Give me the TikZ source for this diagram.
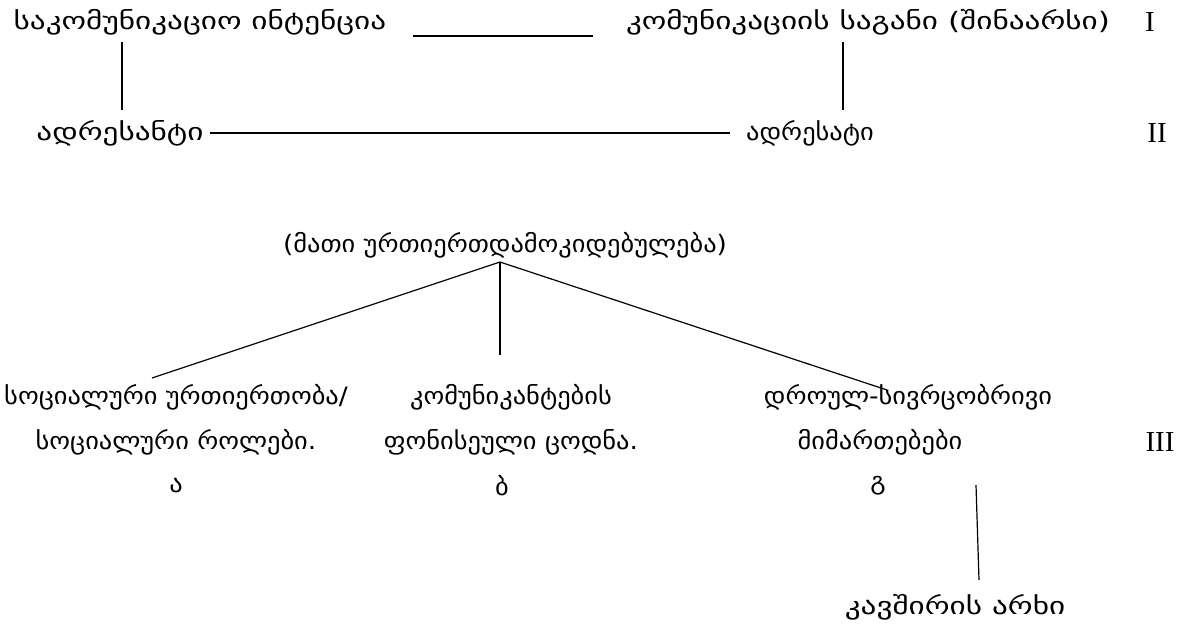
\documentclass[tikz,border=0pt]{standalone}
\usepackage{fontspec}
\setmainfont{Liberation Serif}
\newfontfamily\geo[FakeStretch=1.3]{DejaVu Sans}
\newfontfamily\geonarrow[FakeStretch=1.1]{DejaVu Sans}
\begin{document}
\begin{tikzpicture}[x=1pt,y=-1pt,
  geotext/.style={inner sep=0pt,font=\geo\fontsize{24}{28}\selectfont},
  geonar/.style={inner sep=0pt,font=\geonarrow\fontsize{24}{28}\selectfont},
  roman/.style={inner sep=0pt,font=\fontsize{29}{34}\selectfont},
  link/.style={line width=1.2pt}]
\useasboundingbox (0,0) rectangle (1183,627);
% level I
\node[geotext] (t1) at (200,22) {საკომუნიკაციო ინტენცია};
\node[geotext] (t2) at (868,22) {კომუნიკაციის საგანი (შინაარსი)};
\node[roman] (r1) at (1150,22) {I};
% level II
\node[geotext] (t3) at (120,133) {ადრესანტი};
\node[geonar] (t4) at (810,133) {ადრესატი};
\node[roman] (r2) at (1157,133) {II};
% middle
\node[geonar] (t5) at (505,245) {(მათი ურთიერთდამოკიდებულება)};
% level III
\node[geonar] (a1) at (176,397) {სოციალური ურთიერთობა/};
\node[geonar] (a2) at (176,442) {სოციალური როლები.};
\node[geonar] (a3) at (176,486) {ა};
\node[geonar] (b1) at (511,397) {კომუნიკანტების};
\node[geonar] (b2) at (511,442) {ფონისეული ცოდნა.};
\node[geonar] (b3) at (502,486) {ბ};
\node[geonar] (c1) at (908,397) {დროულ-სივრცობრივი};
\node[geonar] (c2) at (880,442) {მიმართებები};
\node[geonar] (c3) at (878,486) {გ};
\node[roman] (r3) at (1160,442) {III};
\node[geotext] (d) at (955,607) {კავშირის არხი};
% connector ends
\coordinate (h1a) at (413,36); \coordinate (h1b) at (593,36);
\coordinate (v1a) at (122,42); \coordinate (v1b) at (122,110);
\coordinate (v2a) at (843,42); \coordinate (v2b) at (843,110);
\coordinate (h2a) at (210,133); \coordinate (h2b) at (730,133);
\coordinate (j) at (500,262);
\coordinate (ja) at (152,378);
\coordinate (jb) at (500,355);
\coordinate (jc) at (887,390);
\coordinate (ka) at (976,485); \coordinate (kb) at (979,580);
\draw[link] (h1a) -- (h1b);
\draw[link] (v1a) -- (v1b);
\draw[link] (v2a) -- (v2b);
\draw[link] (h2a) -- (h2b);
\draw[link] (j) -- (ja);
\draw[link] (j) -- (jb);
\draw[link] (j) -- (jc);
\draw[link] (ka) -- (kb);
\end{tikzpicture}
\end{document}
